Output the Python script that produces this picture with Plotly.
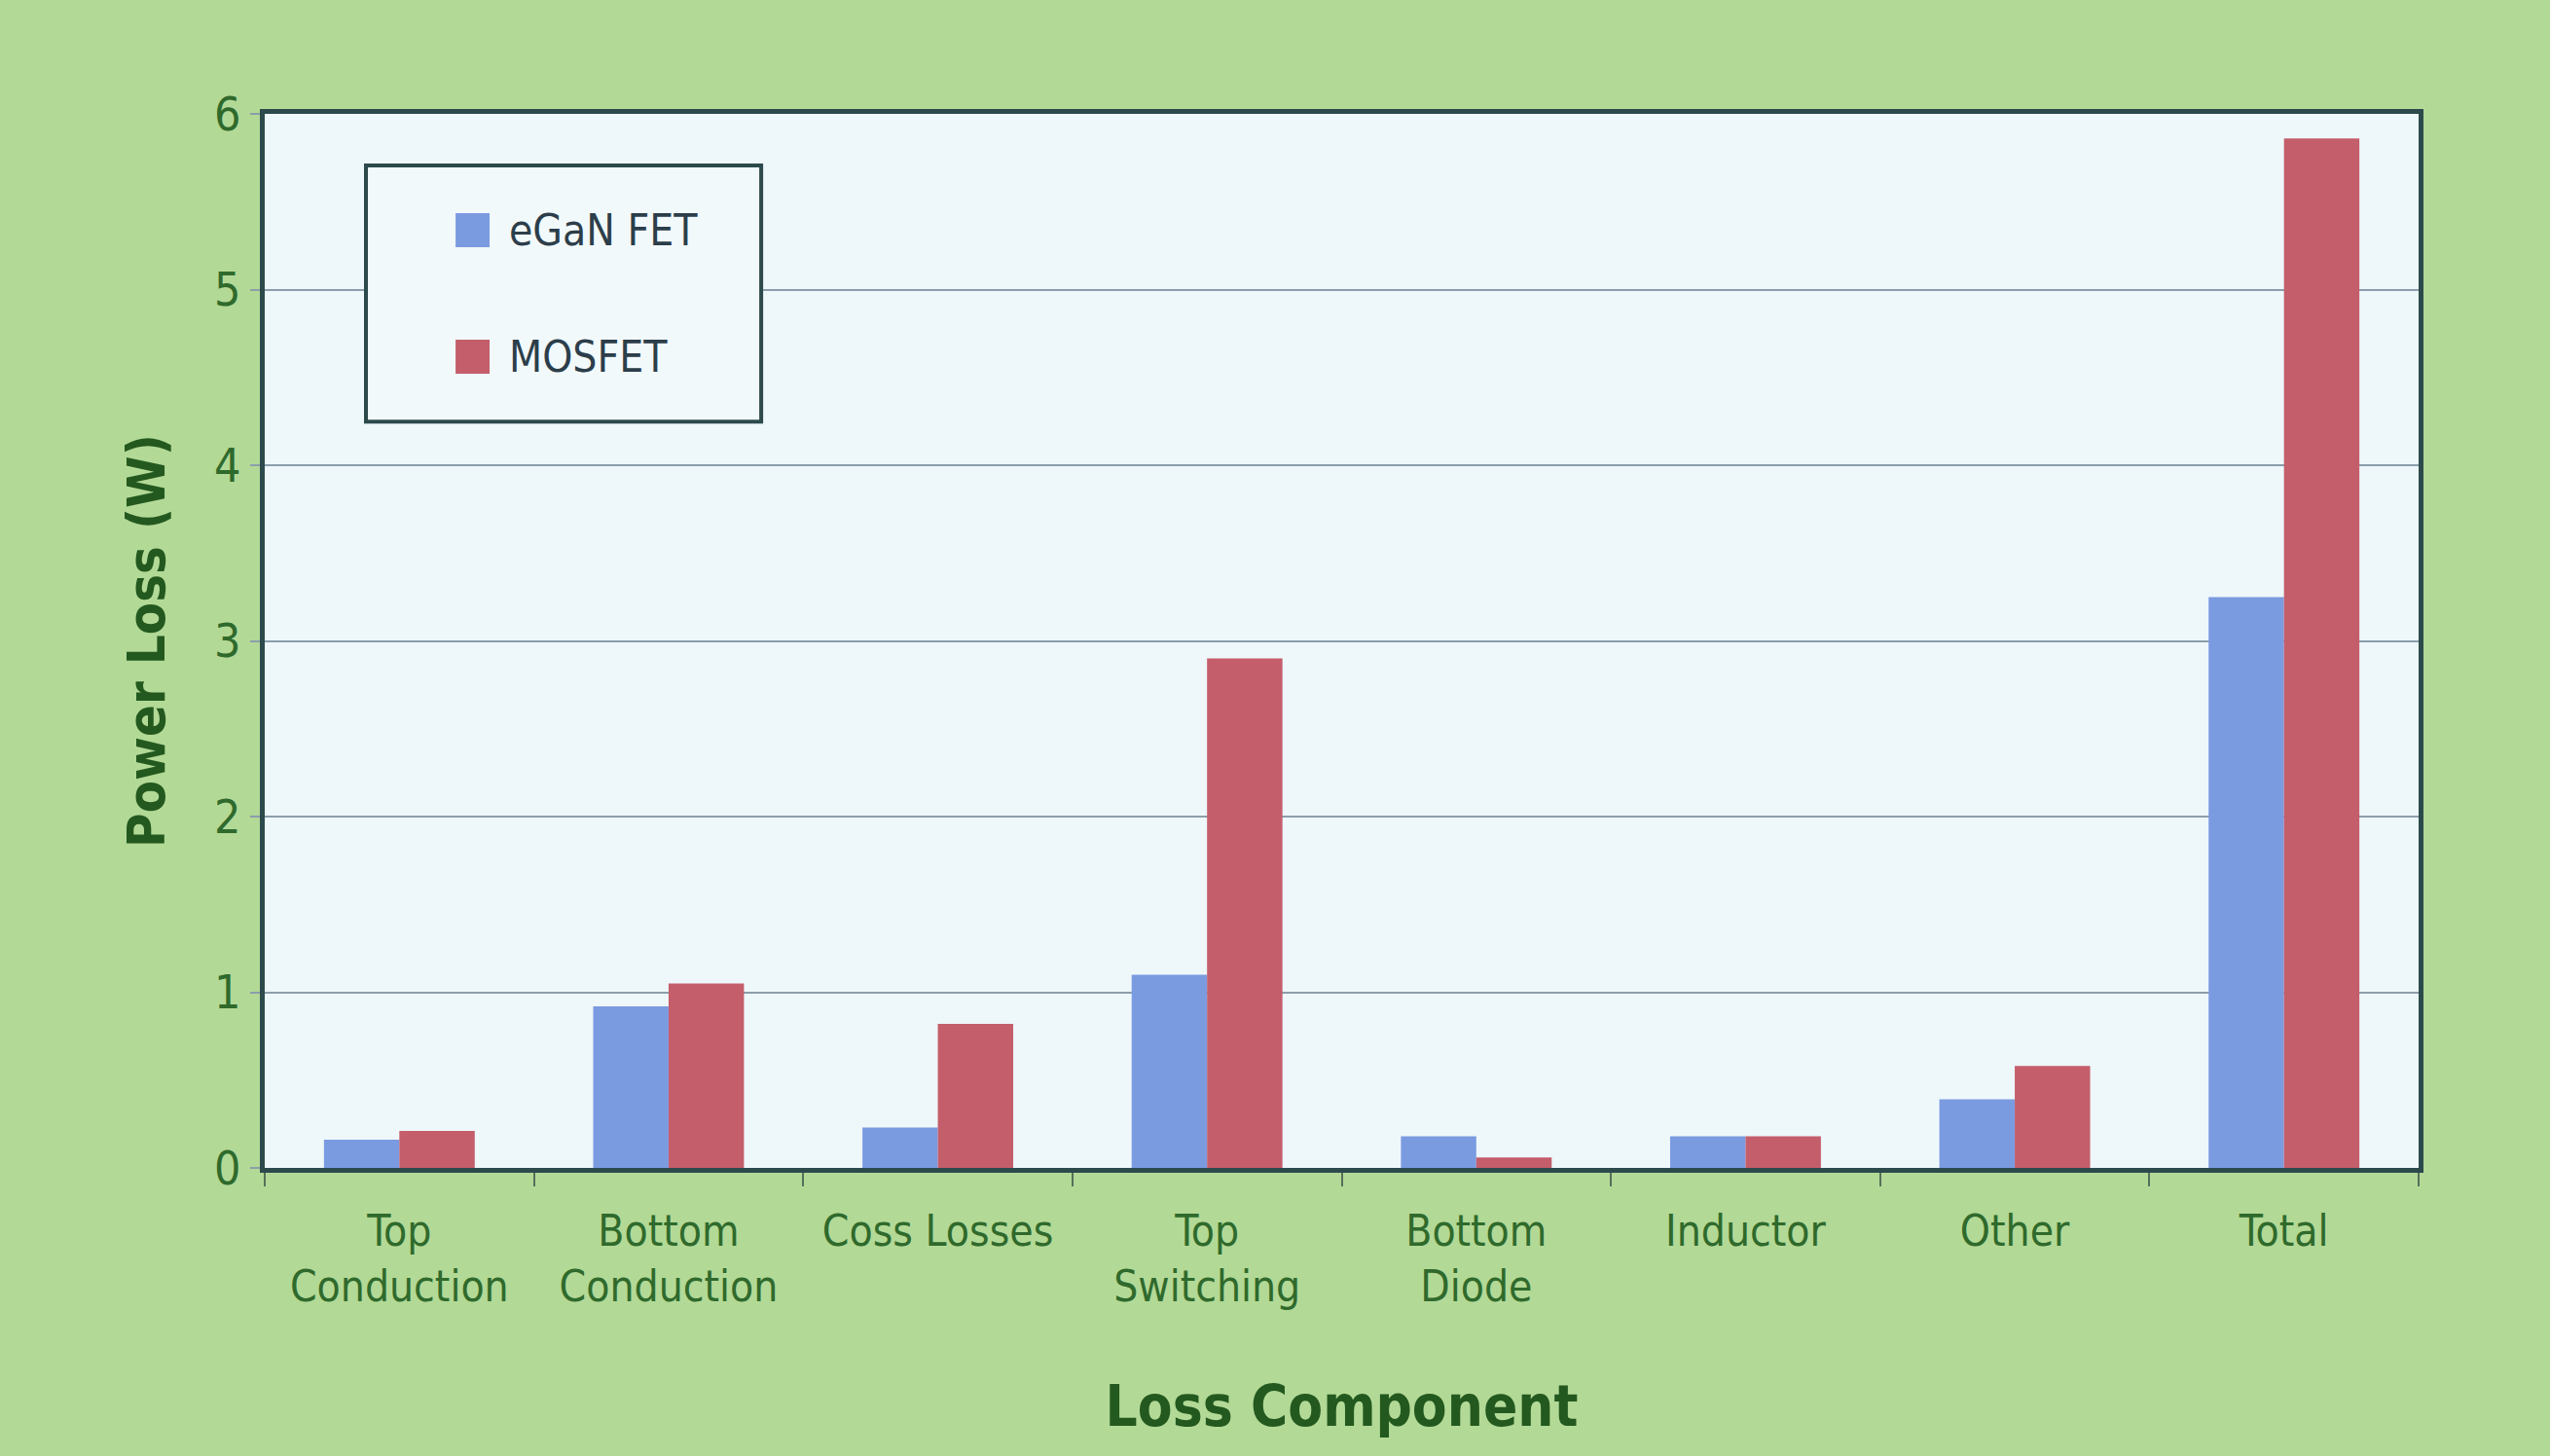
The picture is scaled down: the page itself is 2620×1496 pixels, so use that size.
import plotly.graph_objects as go

categories = ["Top<br>Conduction", "Bottom<br>Conduction", "Coss Losses", "Top<br>Switching",
              "Bottom<br>Diode", "Inductor", "Other", "Total"]
series_names = ["eGaN FET", "MOSFET"]
egan_fet = [0.16, 0.92, 0.23, 1.10, 0.18, 0.18, 0.39, 3.25]
mosfet = [0.21, 1.05, 0.82, 2.90, 0.06, 0.18, 0.58, 5.86]
y_ticks = [0, 1, 2, 3, 4, 5, 6]

FONT = "DejaVu Sans Condensed, Liberation Sans Narrow, sans-serif"
GREEN_TXT = "#2f6a2c"
FRAME = "#2c4a4c"
COLORS = ["#7b9be0", "#c45e6b"]

fig = go.Figure()
fig.add_trace(go.Bar(name=series_names[0], x=categories, y=egan_fet, marker_color=COLORS[0],
                     marker_line_width=0, showlegend=False))
fig.add_trace(go.Bar(name=series_names[1], x=categories, y=mosfet, marker_color=COLORS[1],
                     marker_line_width=0, showlegend=False))

# manual legend box (paper coords relative to plot area)
shapes = [dict(type="rect", xref="paper", yref="paper", x0=0.047, x1=0.2305, y0=0.708, y1=0.951,
               fillcolor="#f2f9fb", line=dict(color=FRAME, width=4), layer="above")]
legend_rows = [(0.8735, 0.9058), (0.7535, 0.7858)]
annotations = []
for name, col, (ya, yb) in zip(series_names, COLORS, legend_rows):
    shapes.append(dict(type="rect", xref="paper", yref="paper", x0=0.0886, x1=0.1044, y0=ya, y1=yb,
                       fillcolor=col, line=dict(width=0), layer="above"))
    annotations.append(dict(xref="paper", yref="paper", x=0.1125, y=(ya + yb) / 2, text=name,
                            showarrow=False, xanchor="left", yanchor="middle",
                            font=dict(family=FONT, size=44, color="#2c3e4a")))

fig.update_layout(
    width=2620, height=1496,
    margin=dict(l=272, r=135, t=117, b=296),
    paper_bgcolor="#b3d996",
    plot_bgcolor="#eef7fa",
    barmode="group", bargap=0.44, bargroupgap=0,
    font=dict(family=FONT, color=GREEN_TXT, size=44),
    showlegend=False,
    shapes=shapes,
    annotations=annotations,
    xaxis=dict(
        showline=True, linecolor=FRAME, linewidth=5, mirror=True,
        ticks="outside", ticklen=14, tickcolor="#55705a", tickwidth=2,
        tickson="boundaries", ticklabelstandoff=22, tickangle=0,
        tickfont=dict(family=FONT, size=44, color=GREEN_TXT),
        title=dict(text="<b>Loss Component</b>", font=dict(family=FONT, size=58, color="#23591f"),
                   standoff=80),
    ),
    yaxis=dict(
        range=[0, 6], tickvals=y_ticks, showline=True, linecolor=FRAME, linewidth=5, mirror=True,
        showgrid=True, gridcolor="#8c9eab", gridwidth=2, zeroline=False,
        ticks="outside", ticklen=10, tickcolor="#8c9eab", tickwidth=2,
        tickfont=dict(family=FONT, size=48, color=GREEN_TXT),
        title=dict(text="<b>Power Loss (W)</b>", font=dict(family=FONT, size=54, color="#23591f"),
                   standoff=35),
    ),
)

fig.write_html("out.html")
